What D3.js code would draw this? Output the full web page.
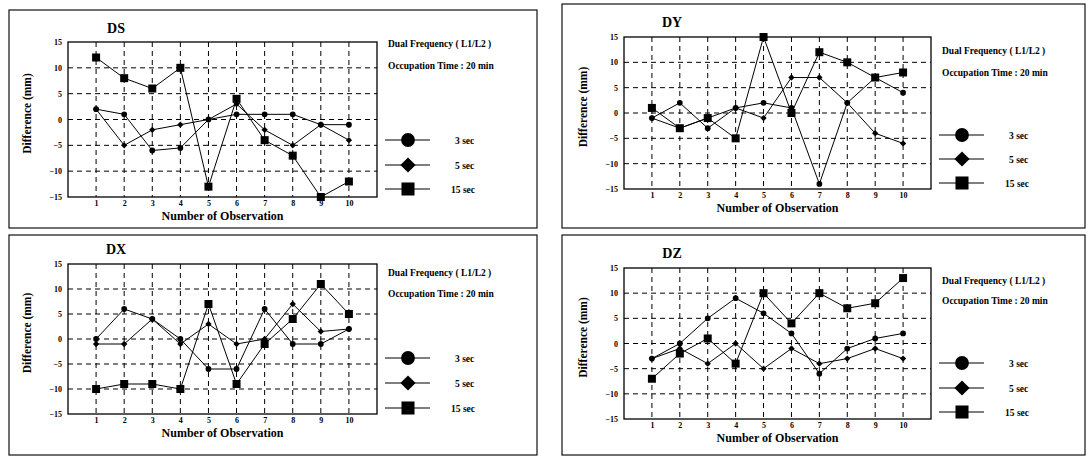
<!DOCTYPE html>
<html>
<head>
<meta charset="utf-8">
<script src="https://cdn.jsdelivr.net/npm/d3@7"></script>
<style>
  body { margin: 0; background: #fff; }
  svg { display: block; }
  text { font-family: "Liberation Serif", "Times New Roman", serif; font-weight: bold; fill: #000; }
</style>
</head>
<body>
<div id="chart"></div>
<script>
// observation numbers and axis ticks
const observations = [1, 2, 3, 4, 5, 6, 7, 8, 9, 10];
const yTicks = [-15, -10, -5, 0, 5, 10, 15];
const seriesNames = ["3  sec", "5  sec", "15 sec"];

// DS
const ds3 = [2, 1, -6, -5.5, 0, 1, 1, 1, -1, -1];
const ds5 = [2, -5, -2, -1, 0, 3, -2, -5, -1, -4];
const ds15 = [12, 8, 6, 10, -13, 4, -4, -7, -15, -12];

// DX
const dx3 = [0, 6, 4, 0, -6, -6, 6, -1, -1, 2];
const dx5 = [-1, -1, 4, -1, 3, -1, 0, 7, 1.5, 2];
const dx15 = [-10, -9, -9, -10, 7, -9, -1, 4, 11, 5];

// DY
const dy3 = [-1, 2, -3, 1, 2, 1, -14, 2, 7, 4];
const dy5 = [-1, -3, -1, 1, -1, 7, 7, 2, -4, -6];
const dy15 = [1, -3, -1, -5, 15, 0, 12, 10, 7, 8];

// DZ
const dz3 = [-3, 0, 5, 9, 6, 2, -6, -1, 1, 2];
const dz5 = [-3, -1, -4, 0, -5, -1, -4, -3, -1, -3];
const dz15 = [-7, -2, 1, -4, 10, 4, 10, 7, 8, 13];

const svg = d3.select("#chart").append("svg")
    .attr("width", 1089)
    .attr("height", 458);

// panel layout (box, plot area, text positions)
const panels = [
    {title: "DS", series: [ds3, ds5, ds15],
     box: [9, 10, 537, 228], plot: [68, 42, 377, 197], titleY: 33, legX: 388, legY: [47, 69], rowY: [140, 165, 189]},
    {title: "DX", series: [dx3, dx5, dx15],
     box: [9, 235, 537, 455], plot: [68, 264, 377, 414], titleY: 254, legX: 388, legY: [276, 297], rowY: [358, 383, 408]},
    {title: "DY", series: [dy3, dy5, dy15],
     box: [562, 4, 1085, 228], plot: [624, 37, 931, 189], titleY: 27, legX: 942, legY: [54, 76], rowY: [135, 159, 183]},
    {title: "DZ", series: [dz3, dz5, dz15],
     box: [562, 235, 1085, 455], plot: [624, 268, 931, 419], titleY: 258, legX: 942, legY: [284, 304], rowY: [363, 388, 412]}
];

// 5 sec uses a square turned 45 degrees, as in the original
const symbolTypes = [d3.symbolCircle, d3.symbolSquare, d3.symbolSquare];
const symbolRotate = [0, 45, 0];
const pointSizes = [26, 20, 64];
const legendSizes = [150, 115, 170];

panels.forEach(p => drawPanel(p));

function drawPanel(p) {
    const [bx0, by0, bx1, by1] = p.box;
    const [px0, py0, px1, py1] = p.plot;
    const g = svg.append("g");

    g.append("rect")
        .attr("x", bx0).attr("y", by0)
        .attr("width", bx1 - bx0).attr("height", by1 - by0)
        .attr("fill", "none").attr("stroke", "#111").attr("stroke-width", 1.2);

    const x = d3.scaleLinear().domain([0, 11]).range([px0, px1]);
    const y = d3.scaleLinear().domain([-15, 15]).range([py1, py0]);

    // dashed grid
    g.selectAll(".vgrid").data(observations).join("line")
        .attr("x1", d => x(d)).attr("x2", d => x(d))
        .attr("y1", py0).attr("y2", py1)
        .attr("stroke", "#000").attr("stroke-width", 1)
        .attr("stroke-dasharray", "5,4");
    g.selectAll(".hgrid").data(yTicks.filter(d => d > -15 && d < 15)).join("line")
        .attr("x1", px0).attr("x2", px1)
        .attr("y1", d => y(d)).attr("y2", d => y(d))
        .attr("stroke", "#000").attr("stroke-width", 1)
        .attr("stroke-dasharray", "5,4");

    g.append("rect")
        .attr("x", px0).attr("y", py0)
        .attr("width", px1 - px0).attr("height", py1 - py0)
        .attr("fill", "none").attr("stroke", "#000").attr("stroke-width", 1.3);

    // axes
    const yAxis = d3.axisLeft(y).tickValues(yTicks).tickSize(0).tickPadding(6);
    const xAxis = d3.axisBottom(x).tickValues(observations).tickSize(0).tickPadding(3);

    const ya = g.append("g").attr("transform", "translate(" + px0 + ",0)").call(yAxis);
    const xa = g.append("g").attr("transform", "translate(0," + py1 + ")").call(xAxis);
    [ya, xa].forEach(a => {
        a.select(".domain").remove();
        a.selectAll("text")
            .style("font-family", "'Liberation Serif', serif")
            .style("font-weight", "bold")
            .style("font-size", "8px")
            .attr("fill", "#000");
    });

    // titles
    g.append("text")
        .attr("x", px0 + 48).attr("y", p.titleY)
        .attr("text-anchor", "middle")
        .style("font-size", "14px")
        .text(p.title);

    g.append("text")
        .attr("x", (px0 + px1) / 2).attr("y", py1 + 23)
        .attr("text-anchor", "middle")
        .style("font-size", "12px")
        .text("Number of Observation");

    g.append("text")
        .attr("transform", "translate(" + (px0 - 37) + "," + ((py0 + py1) / 2 - 6) + ") rotate(-90)")
        .attr("text-anchor", "middle")
        .style("font-size", "11.5px")
        .text("Difference (mm)");

    // series lines and markers
    const line = d3.line()
        .x((d, i) => x(observations[i]))
        .y(d => y(d));

    p.series.forEach((vals, si) => {
        g.append("path")
            .datum(vals)
            .attr("d", line)
            .attr("fill", "none")
            .attr("stroke", "#000")
            .attr("stroke-width", 1);

        g.selectAll(".pt" + si).data(vals).join("path")
            .attr("transform", (d, i) => "translate(" + x(observations[i]) + "," + y(d) + ") rotate(" + symbolRotate[si] + ")")
            .attr("d", d3.symbol().type(symbolTypes[si]).size(pointSizes[si]))
            .attr("fill", "#000");
    });

    // legend text
    g.append("text")
        .attr("x", p.legX).attr("y", p.legY[0])
        .style("font-size", "9.5px")
        .text("Dual  Frequency ( L1/L2 )");
    g.append("text")
        .attr("x", p.legX).attr("y", p.legY[1])
        .style("font-size", "9.5px")
        .text("Occupation Time : 20 min");

    seriesNames.forEach((name, si) => {
        const ry = p.rowY[si];
        g.append("line")
            .attr("x1", p.legX - 3).attr("x2", p.legX + 42)
            .attr("y1", ry).attr("y2", ry)
            .attr("stroke", "#000").attr("stroke-width", 1.2);
        g.append("path")
            .attr("transform", "translate(" + (p.legX + 20) + "," + ry + ") rotate(" + symbolRotate[si] + ")")
            .attr("d", d3.symbol().type(symbolTypes[si]).size(legendSizes[si]))
            .attr("fill", "#000");
        g.append("text")
            .attr("x", p.legX + (si === 2 ? 63 : 67)).attr("y", ry + 3.5)
            .style("font-size", "9.5px")
            .text(name);
    });
}
</script>
</body>
</html>
